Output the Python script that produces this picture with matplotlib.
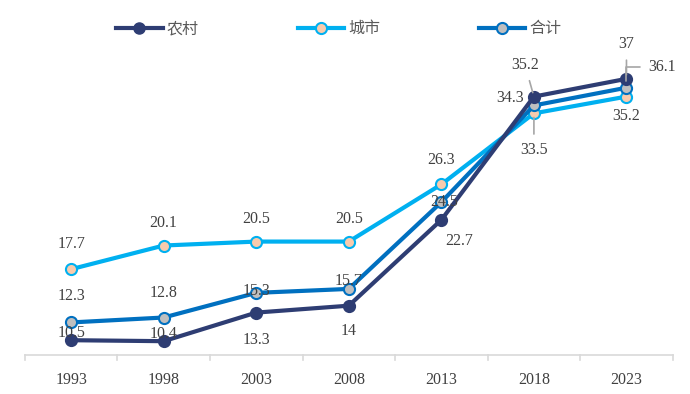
import matplotlib
matplotlib.use("Agg")
import matplotlib.pyplot as plt
from matplotlib.lines import Line2D

years = ["1993", "1998", "2003", "2008", "2013", "2018", "2023"]
rural = [10.5, 10.4, 13.3, 14, 22.7, 35.2, 37]
urban = [17.7, 20.1, 20.5, 20.5, 26.3, 33.5, 35.2]
total = [12.3, 12.8, 15.3, 15.7, 24.5, 34.3, 36.1]
series_names = ["农村", "城市", "合计"]

c_rural = "#2E3D73"
c_urban = "#00B0F0"
c_total = "#0070C0"
mf_urban = "#F8CBAD"
mf_total = "#BFBFBF"

fig = plt.figure(figsize=(6.9, 3.94), dpi=100)
ax = fig.add_axes([0.036, 0.099, 0.939, 0.776])
x = list(range(len(years)))

ax.plot(x, urban, color=c_urban, lw=3, marker="o", ms=8, mfc=mf_urban, mec=c_urban, mew=1.5, zorder=3)
ax.plot(x, total, color=c_total, lw=3, marker="o", ms=8, mfc=mf_total, mec=c_total, mew=1.5, zorder=4)
ax.plot(x, rural, color=c_rural, lw=3, marker="o", ms=8, mfc=c_rural, mec=c_rural, mew=1.5, zorder=5)

ax.set_xlim(-0.5, len(years) - 0.5)
ax.set_ylim(9, 40)
ax.set_yticks([])
for s in ["left", "right", "top"]:
    ax.spines[s].set_visible(False)
ax.spines["bottom"].set_color("#D9D9D9")
ax.spines["bottom"].set_linewidth(1.2)
ax.set_xticks(x)
ax.set_xticklabels(years, family="Liberation Serif", fontsize=11.5, color="#404040")
ax.tick_params(axis="x", length=0, pad=12)
for b in [i - 0.5 for i in range(len(years) + 1)]:
    ax.plot([b, b], [0, -0.018], transform=ax.get_xaxis_transform(), color="#D9D9D9", lw=1.2, clip_on=False)

lab_kw = dict(textcoords="offset pixels", ha="center", va="center",
              family="Liberation Serif", fontsize=11.5, color="#404040", zorder=6)
lead = dict(arrowstyle="-", color="#A6A6A6", lw=1.2, shrinkA=4, shrinkB=3)

rural_off = [(0, 7), (0, 7), (0, -27), (0, -25), (18, -21), (-9, 32), (0, 35)]
urban_off = [(0, 25), (0, 23), (0, 23), (0, 23), (0, 24), (0, -37), (0, -19)]
total_off = [(0, 26), (0, 25), (0, 2), (0, 8), (3, 0), (-24, 7), (36, 21)]

for i, v in enumerate(rural):
    kw = dict(lab_kw)
    if i in (5, 6):
        kw["arrowprops"] = lead
    ax.annotate(f"{v:g}", (i, v), xytext=rural_off[i], **kw)
for i, v in enumerate(urban):
    kw = dict(lab_kw)
    if i == 5:
        kw["arrowprops"] = lead
    ax.annotate(f"{v:g}", (i, v), xytext=urban_off[i], **kw)
for i, v in enumerate(total):
    kw = dict(lab_kw)
    if i == 6:
        kw["arrowprops"] = dict(arrowstyle="-", color="#A6A6A6", lw=1.2, shrinkA=4, shrinkB=5,
                                relpos=(0, 0.5),
                                connectionstyle="angle,angleA=0,angleB=90,rad=0")
    ax.annotate(f"{v:g}", (i, v), xytext=total_off[i], **kw)

handles = [
    Line2D([], [], color=c_rural, lw=3, marker="o", ms=8, mfc=c_rural, mec=c_rural),
    Line2D([], [], color=c_urban, lw=3, marker="o", ms=8, mfc=mf_urban, mec=c_urban, mew=1.5),
    Line2D([], [], color=c_total, lw=3, marker="o", ms=8, mfc=mf_total, mec=c_total, mew=1.5),
]
fig.legend(handles, series_names, loc="upper center", bbox_to_anchor=(0.491, 0.985), ncol=3,
           frameon=False, handlelength=2.9, columnspacing=6.2, handletextpad=0.25,
           prop={"family": ["Noto Sans CJK SC", "DejaVu Sans"], "size": 11.5},
           labelcolor="#595959")

fig.savefig("out.png", dpi=100)
